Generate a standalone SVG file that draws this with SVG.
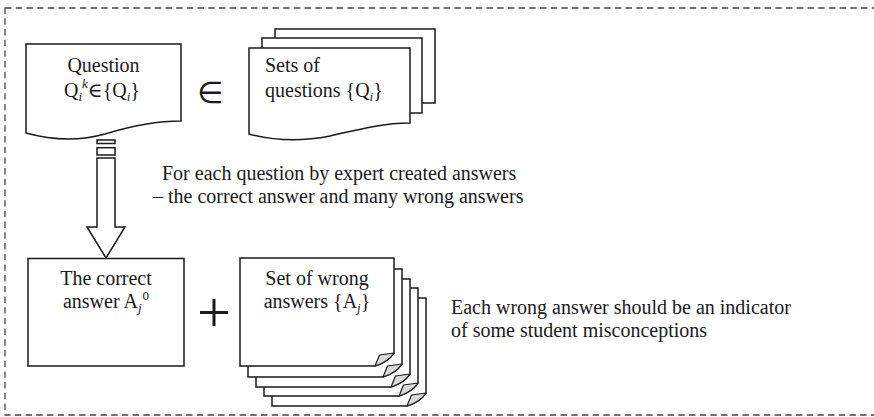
<svg xmlns="http://www.w3.org/2000/svg" xmlns:xlink="http://www.w3.org/1999/xlink" width="874" height="417" viewBox="0 0 874 417">
<style>
text{font-family:"Liberation Serif","DejaVu Serif",serif;font-size:20px;fill:#1a1a1a}
.sh{fill:#fff;stroke:#1a1a1a;stroke-width:1.5;stroke-linejoin:miter}
.it{font-style:italic;font-size:13px}
.sup{font-size:13px}
.fold{fill:#d9d9d9;stroke:#1a1a1a;stroke-width:1.2;stroke-linejoin:round}
</style>
<defs>
<g id="page">
<path class="sh" d="M0,0 H154 V95 Q148,104 135,108 H0 Z"/>
<path class="fold" d="M135,108 L139.5,97 L154,95 Q148,104 135,108 Z"/>
</g>
</defs>
<rect x="5" y="8" width="880" height="407" fill="none" stroke="#444" stroke-width="1.3" stroke-dasharray="6.4 4.3"/>

<g id="question">
<path class="sh" d="M26,44 H181 V121 C152,121 128,127 105,134 C80,141 55,141 26,133 Z"/>
<text x="103.5" y="72" text-anchor="middle">Question</text>
<text x="64" y="97">Q<tspan class="it" dy="4">i</tspan><tspan class="it" dy="-13">k</tspan><tspan dy="9">∈{Q</tspan><tspan class="it" dy="4">i</tspan><tspan dy="-4">}</tspan></text>
</g>

<g id="element-of">
<text x="210" y="103" text-anchor="middle" style="font-family:'DejaVu Sans',sans-serif;font-size:30px">∈</text>
</g>

<g id="sets-of-questions">
<rect class="sh" x="275" y="29" width="160" height="74"/>
<rect class="sh" x="262" y="38" width="160" height="75"/>
<path class="sh" d="M249,48 H410 V123 C382,123 356,130 330,136 C300,142 275,141 249,134 Z"/>
<text x="265" y="72">Sets of</text>
<text x="265" y="97">questions {Q<tspan class="it" dy="4">i</tspan><tspan dy="-4">}</tspan></text>
</g>

<g id="connectors">
<rect class="sh" x="97" y="140" width="18" height="3.5"/>
<rect class="sh" x="97" y="147.7" width="18" height="7.3"/>
<path class="sh" d="M97,158 H115 V227 H125 L106,258 L87,227 H97 Z"/>
</g>

<g id="correct-answer">
<rect class="sh" x="28" y="258.5" width="156" height="107.5"/>
<text x="106" y="285" text-anchor="middle">The correct</text>
<text x="106" y="308" text-anchor="middle">answer A<tspan class="it" dy="4">j</tspan><tspan class="sup" dx="1" dy="-12">0</tspan></text>
</g>

<g id="plus">
<path d="M200,312.5 H228 M214,299 V326" stroke="#1a1a1a" stroke-width="3" fill="none"/>
</g>

<g id="wrong-answers">
<use xlink:href="#page" x="272" y="298"/>
<use xlink:href="#page" x="264" y="288"/>
<use xlink:href="#page" x="256" y="279"/>
<use xlink:href="#page" x="248" y="269"/>
<use xlink:href="#page" x="240" y="258"/>
<text x="317" y="285" text-anchor="middle">Set of wrong</text>
<text x="317" y="308" text-anchor="middle">answers {A<tspan class="it" dy="4">j</tspan><tspan dy="-4">}</tspan></text>
</g>

<g id="note-created">
<text x="162" y="180">For each question by expert created answers</text>
<text x="153" y="203">– the correct answer and many wrong answers</text>
</g>

<g id="note-wrong">
<text x="451" y="313.5">Each wrong answer should be an indicator</text>
<text x="451" y="336.5">of some student misconceptions</text>
</g>
</svg>
